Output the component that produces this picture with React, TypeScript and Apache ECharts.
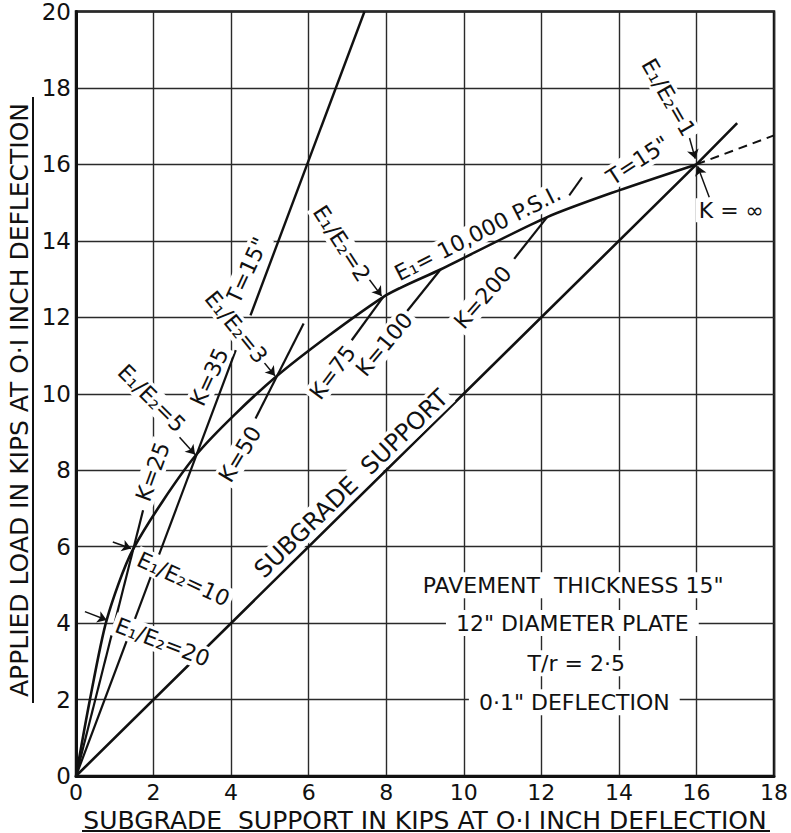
import React, { useEffect, useRef } from "react";
import * as echarts from "echarts";

// ---- axis ranges / ticks ----
const xMin = 0, xMax = 18, xStep = 2;
const yMin = 0, yMax = 20, yStep = 2;

// ---- curves ----
// E1 = 10,000 psi, T = 15" curve
const mainCurveX = [0, 0.35, 0.79, 1.47, 3.09, 5.15, 7.92, 9.4, 12.15, 14, 16];
const mainCurveY = [0, 1.95, 4.08, 5.93, 8.39, 10.44, 12.53, 13.25, 14.62, 15.32, 16];
// dashed continuation
const dashedX = [16, 18];
const dashedY = [16, 16.76];
// subgrade support line
const subgradeX = [0, 16, 17.05];
const subgradeY = [0, 16, 17.08];
// steep T = 15" line
const steepX = [4.5, 7.44];
const steepY = [12.05, 20];
// constant K lines
const k25X = [0, 1.73];
const k25Y = [0, 6.95];
const k35X = [0, 4.12];
const k35Y = [0, 11.14];
const k50X = [4.63, 5.87];
const k50Y = [9.35, 11.84];
const k75X = [7.11, 7.92];
const k75Y = [11.4, 12.53];
const k100X = [8.52, 9.4];
const k100Y = [12.14, 13.25];
const k200X = [11.3, 12.15];
const k200Y = [13.53, 14.62];
// small separator dash in the curve label
const dashMarkX = [12.72, 13.05];
const dashMarkY = [15.19, 15.66];

// ---- arrows (from -> to) ----
const arrowFromX = [0.23, 0.95, 2.67, 4.8, 7.54, 15.79, 16.33];
const arrowFromY = [4.3, 6.12, 8.86, 10.88, 13.02, 16.8, 15.14];
const arrowToX = [0.79, 1.42, 3.07, 5.13, 7.88, 15.97, 16.03];
const arrowToY = [4.08, 5.95, 8.41, 10.47, 12.56, 16.15, 15.95];

// ---- in-plot labels ----
const labelTexts = [
  "K=25", "K=35", "K=50", "K=75", "K=100", "K=200", "T=15\"",
  "E\u2081/E\u2082=20", "E\u2081/E\u2082=10", "E\u2081/E\u2082=5", "E\u2081/E\u2082=3",
  "E\u2081/E\u2082=2", "E\u2081/E\u2082=1",
  "E\u2081= 10,000 P.S.I.", "T=15\"", "K = \u221E", "SUBGRADE  SUPPORT",
  "PAVEMENT  THICKNESS 15\"", "12\" DIAMETER PLATE", "T/r = 2\u00B75", "0\u00B71\" DEFLECTION",
];
const labelX = [1.98, 3.44, 4.23, 6.62, 7.95, 10.49, 4.41, 2.23, 2.77, 1.95, 4.13, 6.85, 15.28, 10.36, 14.49, 16.9, 7.1, 12.82, 12.8, 12.9, 12.85];
const labelY = [7.96, 10.44, 8.42, 10.56, 11.29, 12.52, 13.23, 3.5, 5.15, 9.88, 11.74, 13.93, 17.75, 14.2, 16.1, 14.8, 7.65, 4.99, 4.0, 2.95, 1.93];
const labelAngle = [70, 65, 59, 53, 50, 49, 65, -21, -25, -45, -51, -57, -60, 27, 33, 0, 44, 0, 0, 0, 0];

const FONT = "DejaVu Sans";
const INK = "#111111";

const zip = (xs: number[], ys: number[]) => xs.map((x, i) => [x, ys[i]]);

function lineSeries(data: number[][], width: number, opts: any = {}) {
  return {
    type: "line",
    data,
    symbol: "none",
    showSymbol: false,
    silent: true,
    z: 3,
    lineStyle: { color: INK, width, type: opts.dashed ? [9, 6] : "solid" },
    smooth: opts.smooth || false,
    ...(opts.extra || {}),
  };
}

export default function App() {
  const ref = useRef<HTMLDivElement>(null);
  useEffect(() => {
    if (!ref.current) return;
    const chart = echarts.init(ref.current, null, { renderer: "svg" });

    const arrowData = arrowFromX.map((fx, i) => [
      { coord: [fx, arrowFromY[i]] },
      { coord: [arrowToX[i], arrowToY[i]] },
    ]);

    const labelData = labelTexts.map((t, i) => {
      const boxed = i >= 17;
      return {
        value: [labelX[i], labelY[i]],
        label: {
          formatter: t,
          rotate: labelAngle[i],
          fontSize: i === 16 ? 24 : 22,
          padding: boxed ? [2, 10] : [1, 3],
        },
      };
    });

    chart.setOption({
      animation: false,
      backgroundColor: "#fff",
      grid: {
        left: 76,
        top: 11,
        width: 703,
        height: 765,
        show: true,
        borderColor: INK,
        borderWidth: 2.5,
        backgroundColor: "transparent",
      },
      xAxis: {
        type: "value",
        min: xMin,
        max: xMax,
        interval: xStep,
        axisLine: { show: true, lineStyle: { color: INK, width: 3 } },
        axisTick: { show: false },
        splitLine: { show: true, lineStyle: { color: "#2a2a2a", width: 1.4 } },
        axisLabel: { fontFamily: FONT, fontSize: 22, lineHeight: 22, color: INK, margin: 5 },
      },
      yAxis: {
        type: "value",
        min: yMin,
        max: yMax,
        interval: yStep,
        axisLine: { show: true, lineStyle: { color: INK, width: 3 } },
        axisTick: { show: false },
        splitLine: { show: true, lineStyle: { color: "#2a2a2a", width: 1.4 } },
        axisLabel: { fontFamily: FONT, fontSize: 23, color: INK, margin: 5 },
      },
      graphic: [
        {
          type: "text",
          x: 19,
          y: 400,
          rotation: Math.PI / 2,
          style: {
            text: "APPLIED LOAD IN KIPS AT O\u00B7I INCH DEFLECTION",
            font: `25px '${FONT}'`,
            fill: INK,
            textAlign: "center",
            textVerticalAlign: "middle",
          },
        },
        {
          type: "line",
          shape: { x1: 33, y1: 97, x2: 33, y2: 703 },
          style: { stroke: INK, lineWidth: 2 },
        },
        {
          type: "text",
          x: 425,
          y: 820,
          style: {
            text: "SUBGRADE  SUPPORT IN KIPS AT O\u00B7I INCH DEFLECTION",
            font: `25px '${FONT}'`,
            fill: INK,
            textAlign: "center",
            textVerticalAlign: "middle",
          },
        },
        {
          type: "line",
          shape: { x1: 82, y1: 831, x2: 770, y2: 831 },
          style: { stroke: INK, lineWidth: 2 },
        },
      ],
      series: [
        lineSeries(zip(subgradeX, subgradeY), 2.6, {
          extra: {
            markLine: {
              silent: true,
              symbol: ["none", "arrow"],
              symbolSize: 9,
              label: { show: false },
              emphasis: { disabled: true },
              lineStyle: { color: INK, width: 1.5, type: "solid" },
              data: arrowData,
            },
          },
        }),
        lineSeries(zip(mainCurveX, mainCurveY), 2.6, { smooth: 0.25 }),
        lineSeries(zip(dashedX, dashedY), 2, { dashed: true }),
        lineSeries(zip(steepX, steepY), 2.4),
        lineSeries(zip(k25X, k25Y), 2.2),
        lineSeries(zip(k35X, k35Y), 2.2),
        lineSeries(zip(k50X, k50Y), 2.2),
        lineSeries(zip(k75X, k75Y), 2.2),
        lineSeries(zip(k100X, k100Y), 2.2),
        lineSeries(zip(k200X, k200Y), 2.2),
        lineSeries(zip(dashMarkX, dashMarkY), 2),
        {
          type: "scatter",
          z: 10,
          silent: true,
          symbolSize: 1,
          itemStyle: { color: "rgba(0,0,0,0)" },
          label: {
            show: true,
            position: "inside",
            align: "center",
            verticalAlign: "middle",
            fontFamily: FONT,
            fontSize: 22,
            color: INK,
            opacity: 1,
            textBorderWidth: 0,
            textBorderColor: "transparent",
            textShadowBlur: 0,
            backgroundColor: "#fff",
          },
          data: labelData,
        },
      ],
    });
    return () => chart.dispose();
  }, []);

  return (
    <div
      ref={ref}
      style={{ position: "fixed", left: 0, top: 0, width: 791, height: 833, background: "#fff" }}
    />
  );
}
